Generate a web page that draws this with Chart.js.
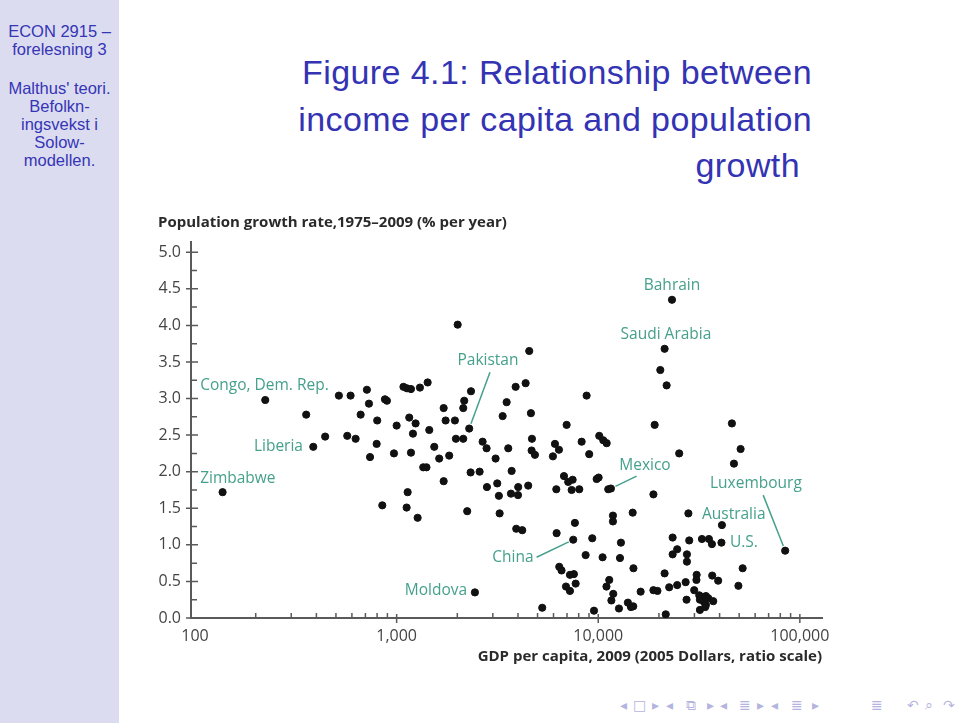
<!DOCTYPE html>
<html>
<head>
<meta charset="utf-8">
<script src="https://cdn.jsdelivr.net/npm/chart.js@4.4.0/dist/chart.umd.min.js"></script>
<style>
  body { margin: 0; width: 960px; height: 723px; background: #fff; position: relative; overflow: hidden; font-family: "Liberation Sans", sans-serif; }
  #sidebar { position: absolute; left: 0; top: 0; width: 119px; height: 723px; background: #dcdcf1; color: #3535b5; text-align: center; font-size: 16.5px; line-height: 18px; }
  #sidebar .blk { position: absolute; left: 0; width: 119px; }
  .ttl { position: absolute; right: 148px; color: #3333b3; font-size: 34px; line-height: 40px; letter-spacing: 0.4px; white-space: nowrap; }
  #chartBox { position: absolute; left: 150px; top: 200px; width: 690px; height: 475px; }
  #nav { position: absolute; top: 697px; left: 0; width: 960px; height: 20px; color: #b4b4de; font-family: "DejaVu Sans", sans-serif; font-size: 14px; }
  #nav span { position: absolute; }
</style>
</head>
<body>
<div id="sidebar">
  <div class="blk" style="top:22px">ECON 2915 –<br>forelesning 3</div>
  <div class="blk" style="top:79px">Malthus' teori.<br>Befolkn-<br>ingsvekst i<br>Solow-<br>modellen.</div>
</div>
<div class="ttl" style="top:52px">Figure 4.1: Relationship between</div>
<div class="ttl" style="top:99px">income per capita and population</div>
<div class="ttl" style="top:145px;right:160px">growth</div>
<div id="chartBox"><canvas id="scatter" width="690" height="475"></canvas></div>
<div id="nav"></div>
<script>
// GDP per capita 2009 (2005 dollars) and population growth 1975-2009 (% per year)
var gdpPerCapita = [
  223, 356, 517, 591, 712, 729, 875, 895, 663, 801,
  1000, 442, 569, 626, 386, 796, 738, 970, 137, 849,
  1121, 1134, 1271, 1155, 1242, 1205, 1178, 1452, 1537, 1355,
  1406, 1626, 1823, 1711, 1750, 1946, 1968, 2140, 1711, 2140,
  2164, 2291, 2328, 2580, 2239, 2445, 2670, 2794, 2805, 3097,
  3155, 3215, 3243, 3356, 3513, 3578, 2008, 1081, 1125, 1178,
  1305, 1425, 2338, 4547, 3893, 4363, 4636, 4690, 4673, 4853,
  6100, 6384, 5960, 6970, 8274, 8757, 9020, 10116, 10590, 11010,
  23220, 21340, 20320, 21840, 19050, 46030, 50840, 25210, 3719, 3690,
  3999, 4009, 4494, 6194, 6761, 7097, 7464, 7379, 8054, 9820,
  10046, 11210, 3920, 4198, 7660, 6216, 7516, 9340, 8660, 10510,
  6407, 6577, 7239, 7574, 7727, 6918, 7239, 10985, 11340, 5275,
  9527, 47120, 11560, 18780, 14820, 11830, 11830, 28000, 12960, 12820,
  14950, 21340, 23390, 23390, 24640, 27540, 27540, 28270, 32690, 35400,
  36640, 40840, 41070, 84570, 52040, 49580, 36760, 39340, 30770, 30700,
  18780, 19660, 16230, 11870, 11620, 14030, 14530, 14920, 12670, 21620,
  22490, 24640, 27140, 29930, 31700, 32590, 34210, 35150, 31940, 33440,
  37190, 34210, 31940, 33940, 27420
];
var popGrowth = [
  2.98, 2.78, 3.04, 3.04, 3.12, 2.93, 2.99, 2.97, 2.78, 2.70,
  2.63, 2.48, 2.49, 2.45, 2.34, 2.38, 2.20, 2.25, 1.72, 1.54,
  1.51, 1.72, 1.37, 2.74, 2.66, 2.52, 2.26, 2.57, 2.34, 2.06,
  2.06, 2.18, 2.22, 2.87, 2.70, 2.70, 2.45, 2.45, 1.87, 2.87,
  2.97, 2.59, 1.99, 2.00, 1.46, 0.35, 2.41, 2.32, 1.79, 2.18,
  1.84, 1.67, 1.43, 2.76, 2.95, 2.32, 4.01, 3.16, 3.14, 3.13,
  3.15, 3.22, 3.10, 3.65, 3.16, 3.21, 2.80, 2.45, 2.29, 2.23,
  2.38, 2.30, 2.21, 2.64, 2.41, 3.04, 2.24, 2.49, 2.43, 2.39,
  4.35, 3.68, 3.39, 3.18, 2.64, 2.66, 2.31, 2.25, 2.01, 1.70,
  1.68, 1.79, 1.81, 1.76, 1.94, 1.86, 1.89, 1.75, 1.76, 1.90,
  1.92, 1.76, 1.22, 1.20, 1.30, 1.16, 1.07, 1.09, 0.86, 0.83,
  0.70, 0.65, 0.59, 0.60, 0.47, 0.43, 0.37, 0.43, 0.52, 0.14,
  0.10, 2.11, 1.77, 1.69, 1.44, 1.40, 1.32, 1.43, 1.03, 0.82,
  0.68, 0.61, 1.10, 0.87, 0.94, 0.87, 0.77, 1.06, 1.08, 1.08,
  1.01, 1.03, 1.27, 0.92, 0.68, 0.44, 0.58, 0.51, 0.59, 0.52,
  0.38, 0.37, 0.36, 0.33, 0.24, 0.21, 0.15, 0.16, 0.13, 0.05,
  0.42, 0.45, 0.49, 0.38, 0.31, 0.29, 0.30, 0.27, 0.25, 0.22,
  0.23, 0.18, 0.11, 0.15, 0.25
];

// axis ticks
var xTickValues = [100, 1000, 10000, 100000];
var xMinorTicks = [200, 300, 400, 500, 600, 700, 800, 900,
                   2000, 3000, 4000, 5000, 6000, 7000, 8000, 9000,
                   20000, 30000, 40000, 50000, 60000, 70000, 80000, 90000];
var yTickValues = [0, 0.5, 1, 1.5, 2, 2.5, 3, 3.5, 4, 4.5, 5];
var yMinorTicks = [0.25, 0.75, 1.25, 1.75, 2.25, 2.75, 3.25, 3.75, 4.25, 4.75];

// country labels (anchor in data units) and leader lines
var labelNames  = ['Congo, Dem. Rep.', 'Liberia', 'Zimbabwe', 'Pakistan', 'Bahrain', 'Saudi Arabia', 'Mexico', 'Luxembourg', 'Australia', 'U.S.', 'China', 'Moldova'];
var labelGdp    = [106, 343, 106, 2838, 23220, 21670, 17050, 60560, 32690, 44990, 3775, 1566];
var labelGrowth = [3.18, 2.35, 1.91, 3.52, 4.55, 3.88, 2.08, 1.84, 1.42, 1.03, 0.82, 0.38];
var labelAlign  = ['left', 'right', 'left', 'center', 'center', 'center', 'center', 'center', 'left', 'left', 'center', 'center'];
var leaderFromGdp = [2291, 11560, 7516, 84570];
var leaderFromGrowth = [2.59, 1.77, 1.07, 0.92];
var leaderToGdp = [2904, 15500, 4946, 65800];
var leaderToGrowth = [3.36, 1.94, 0.83, 1.68];

var points = gdpPerCapita.map(function (g, i) { return { x: g, y: popGrowth[i] }; });

var axisColor = '#5a5a5a';
var labelColor = '#45a08c';
var tickFont = { family: 'Open Sans', size: 16 };
var boldFont = { family: 'Open Sans', size: 15, weight: 'bold' };

var axisTicks = {
    id: 'axisTicks',
    afterDraw: function (chart) {
        var ctx = chart.ctx, a = chart.chartArea, x = chart.scales.x, y = chart.scales.y;
        ctx.save();
        ctx.strokeStyle = axisColor;
        ctx.lineWidth = 1.5;
        ctx.beginPath();
        yTickValues.forEach(function (v) {
            var p = y.getPixelForValue(v);
            ctx.moveTo(a.left - 5, p); ctx.lineTo(a.left + 7, p);
        });
        yMinorTicks.forEach(function (v) {
            var p = y.getPixelForValue(v);
            ctx.moveTo(a.left, p); ctx.lineTo(a.left + 6, p);
        });
        xTickValues.slice(1).forEach(function (v) {
            var p = x.getPixelForValue(v);
            ctx.moveTo(p, a.bottom + 5); ctx.lineTo(p, a.bottom - 4);
        });
        xMinorTicks.forEach(function (v) {
            var p = x.getPixelForValue(v);
            ctx.moveTo(p, a.bottom); ctx.lineTo(p, a.bottom - 5);
        });
        ctx.stroke();
        ctx.restore();
    }
};

var countryLabels = {
    id: 'countryLabels',
    afterDatasetsDraw: function (chart) {
        var ctx = chart.ctx, x = chart.scales.x, y = chart.scales.y;
        ctx.save();
        ctx.strokeStyle = labelColor;
        ctx.lineWidth = 1.5;
        leaderFromGdp.forEach(function (g, i) {
            var x0 = x.getPixelForValue(g), y0 = y.getPixelForValue(leaderFromGrowth[i]);
            var x1 = x.getPixelForValue(leaderToGdp[i]), y1 = y.getPixelForValue(leaderToGrowth[i]);
            var len = Math.hypot(x1 - x0, y1 - y0);
            ctx.beginPath();
            ctx.moveTo(x0 + (x1 - x0) * 5 / len, y0 + (y1 - y0) * 5 / len);
            ctx.lineTo(x1, y1);
            ctx.stroke();
        });
        ctx.fillStyle = labelColor;
        ctx.font = '15.5px "Open Sans"';
        ctx.textBaseline = 'middle';
        labelNames.forEach(function (name, i) {
            ctx.textAlign = labelAlign[i];
            ctx.fillText(name, x.getPixelForValue(labelGdp[i]), y.getPixelForValue(labelGrowth[i]));
        });
        ctx.restore();
    }
};

var scatterChart = new Chart(document.getElementById('scatter'), {
    type: 'scatter',
    data: {
        datasets: [{
            data: points,
            backgroundColor: '#111',
            borderColor: '#111',
            pointRadius: 3.6,
            pointHoverRadius: 3.6
        }]
    },
    options: {
        responsive: false,
        animation: false,
        layout: { padding: { left: 8, right: 18, top: 0, bottom: 4 } },
        plugins: {
            legend: { display: false },
            tooltip: { enabled: false },
            title: {
                display: true,
                text: 'Population growth rate,1975–2009 (% per year)',
                align: 'start',
                color: '#2a2a2a',
                font: boldFont,
                padding: { top: 14, bottom: 10 }
            }
        },
        scales: {
            x: {
                type: 'logarithmic',
                min: 95.5,
                max: 128800,
                grid: { display: false, drawTicks: false },
                border: { display: true, color: axisColor, width: 2 },
                afterBuildTicks: function (s) { s.ticks = xTickValues.map(function (v) { return { value: v }; }); },
                afterFit: function (s) { s.height = 53; },
                ticks: {
                    autoSkip: false,
                    maxRotation: 0,
                    padding: 9,
                    color: '#444',
                    font: tickFont,
                    callback: function (v) { return Number(v).toLocaleString('en-US'); }
                },
                title: {
                    display: true,
                    text: 'GDP per capita, 2009 (2005 Dollars, ratio scale)',
                    align: 'end',
                    color: '#2a2a2a',
                    font: boldFont,
                    padding: { top: 0, bottom: 5 }
                }
            },
            y: {
                min: 0,
                max: 5.14,
                grid: { display: false, drawTicks: false },
                border: { display: true, color: axisColor, width: 2 },
                afterBuildTicks: function (s) { s.ticks = yTickValues.map(function (v) { return { value: v }; }); },
                afterFit: function (s) { s.width = 33; },
                ticks: {
                    padding: 10,
                    color: '#444',
                    font: tickFont,
                    callback: function (v) { return Number(v).toFixed(1); }
                }
            }
        }
    },
    plugins: [axisTicks, countryLabels]
});

// beamer navigation symbols
var navGlyphs = ['◂', '□', '▸', '◂', '⧉', '▸', '◂', '≣', '▸', '◂', '≣', '▸', '≣', '↶', '⌕', '↷'];
var navX = [620, 633, 652, 666, 686, 707, 720, 739, 757, 771, 791, 812, 871, 907, 925, 943];
var nav = document.getElementById('nav');
navGlyphs.forEach(function (g, i) {
    var s = document.createElement('span');
    s.textContent = g;
    s.style.left = navX[i] + 'px';
    nav.appendChild(s);
});
</script>
</body>
</html>
